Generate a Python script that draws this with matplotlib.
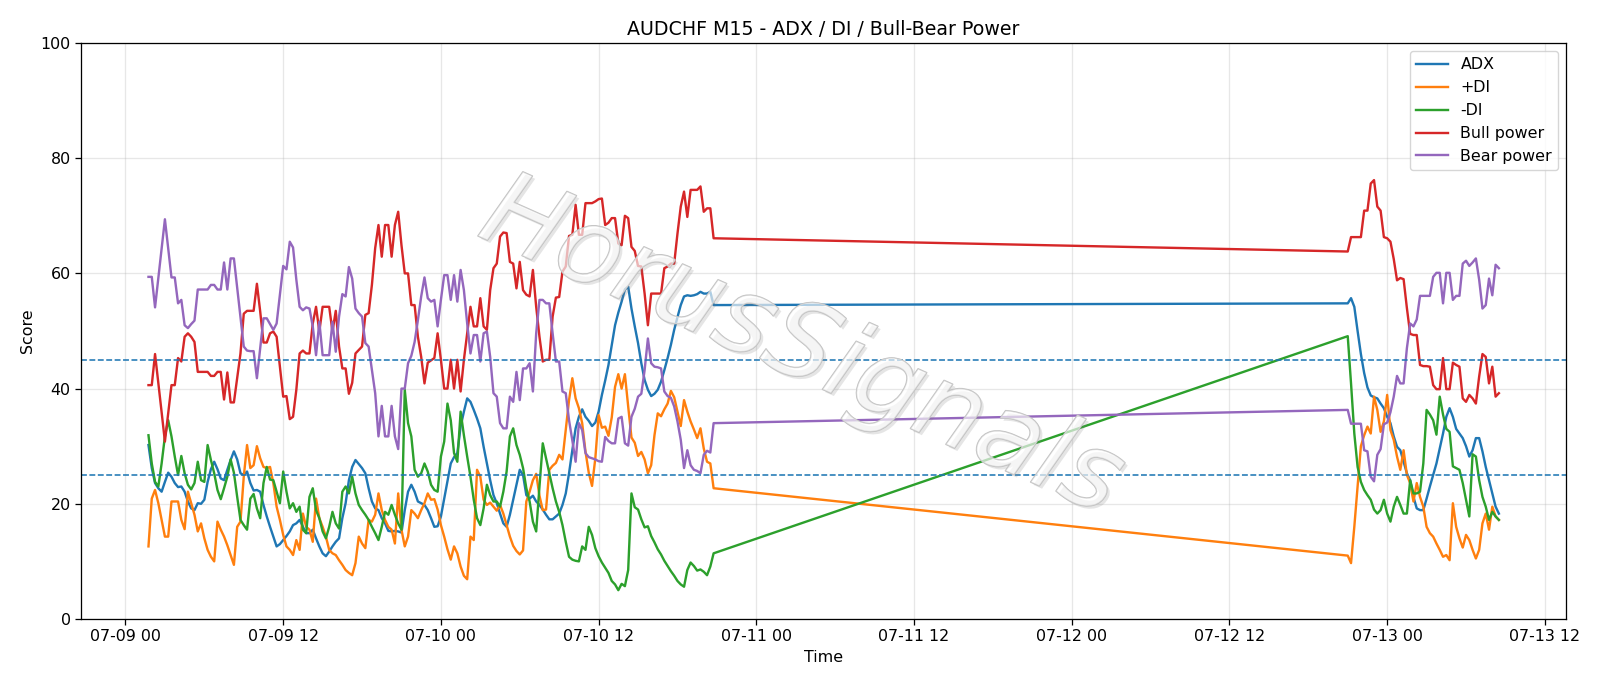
import matplotlib
matplotlib.use("Agg")
import matplotlib.pyplot as plt
import matplotlib.dates as mdates
import matplotlib.patheffects as pe
import pandas as pd

# M15 bars: Friday session, then the weekend gap, then Sunday/Monday session
seg1_start, seg1_len = "2026-07-09 01:45", 173
seg2_start, seg2_len = "2026-07-12 21:00", 47

adx = [
    30.2, 26.2, 23.6, 22.7, 22.1, 23.8, 25.4, 24.7, 23.6, 22.9, 23.0, 22.1, 20.4, 19.2, 18.9, 20.1, 20.0, 20.7, 23.8, 26.0, 27.3, 26.0,
    24.4, 24.1, 25.9, 27.6, 29.1, 27.7, 25.3, 25.0, 25.6, 23.6, 22.3, 22.4, 22.1, 19.8, 17.8, 16.0, 14.3, 12.6, 13.0, 13.7, 14.4, 15.2,
    16.3, 16.6, 17.2, 16.0, 14.9, 14.9, 15.5, 14.0, 12.6, 11.4, 10.9, 11.7, 12.6, 13.4, 14.0, 17.5, 20.1, 24.1, 26.4, 27.6, 26.9, 26.2,
    25.3, 22.7, 20.4, 19.2, 18.9, 17.5, 16.6, 15.3, 15.2, 15.3, 15.2, 15.0, 18.9, 22.1, 23.3, 22.1, 20.4, 20.1, 19.8, 18.9, 17.5, 16.0,
    16.1, 17.8, 20.9, 24.1, 27.0, 28.1, 28.8, 33.4, 36.0, 38.3, 37.7, 36.3, 34.8, 33.1, 29.9, 27.0, 24.1, 21.5, 20.1, 18.3, 16.6, 16.0,
    18.1, 20.7, 23.3, 25.9, 25.0, 21.5, 20.9, 21.4, 20.4, 19.8, 19.0, 18.1, 17.3, 17.3, 17.8, 18.3, 19.8, 21.8, 25.3, 29.3, 33.1, 35.1,
    36.4, 35.1, 34.4, 33.5, 34.1, 36.0, 38.9, 41.4, 44.1, 47.6, 51.0, 53.2, 55.1, 57.2, 57.7, 53.9, 50.8, 47.9, 44.4, 41.5, 39.8, 38.7,
    39.1, 39.8, 41.2, 43.2, 45.3, 47.6, 50.2, 52.4, 54.5, 56.0, 56.2, 56.1, 56.2, 56.4, 56.8, 56.5, 56.5, 56.8, 54.5,
    54.8, 55.7, 54.2, 50.0, 46.0, 42.7, 40.2, 38.8, 38.5, 38.3, 37.4, 36.6, 35.1, 34.0, 31.7, 29.9, 29.3, 27.3, 25.3, 24.1, 21.2, 19.2,
    18.9, 18.9, 20.9, 23.0, 25.0, 27.0, 29.6, 32.2, 35.1, 36.6, 35.1, 33.0, 32.2, 31.4, 30.0, 28.2, 29.3, 31.4, 31.4, 29.1, 26.4, 24.1,
    21.8, 19.5, 18.3,
]

plus_di = [
    12.6, 20.9, 22.4, 20.1, 17.2, 14.3, 14.3, 20.4, 20.4, 20.4, 17.2, 15.6, 22.1, 20.1, 18.1, 15.2, 16.6, 14.0, 12.0, 10.8, 10.0, 16.9,
    15.5, 14.3, 12.8, 11.1, 9.4, 16.0, 16.9, 24.7, 30.2, 26.2, 26.7, 30.0, 27.9, 26.4, 26.2, 26.4, 23.6, 19.5, 17.2, 14.6, 12.6, 12.0,
    11.1, 13.7, 12.0, 18.3, 16.0, 15.5, 13.4, 20.9, 17.5, 16.0, 14.3, 12.0, 11.4, 11.1, 10.2, 9.4, 8.5, 8.0, 7.6, 9.7, 14.3, 13.1,
    12.3, 17.2, 16.9, 18.1, 21.8, 18.9, 17.2, 16.0, 15.5, 13.1, 21.8, 15.5, 12.6, 14.3, 18.9, 18.3, 17.5, 18.9, 20.1, 21.8, 20.7, 20.8,
    19.0, 16.3, 14.3, 12.1, 10.3, 12.6, 11.4, 9.1, 7.5, 6.9, 14.3, 13.7, 25.9, 24.7, 20.7, 19.8, 20.2, 19.5, 18.8, 19.8, 18.3, 16.3,
    14.3, 12.7, 11.8, 11.2, 11.9, 20.4, 22.1, 24.1, 25.2, 21.4, 18.9, 19.0, 25.9, 26.6, 27.1, 28.5, 27.7, 32.8, 38.0, 41.8, 38.3, 36.6,
    34.0, 29.1, 25.4, 23.1, 27.9, 35.4, 33.2, 33.4, 31.8, 35.0, 40.3, 42.5, 40.0, 42.5, 36.9, 31.5, 30.6, 28.3, 29.0, 27.7, 25.3, 26.7,
    31.9, 35.7, 35.2, 36.4, 37.4, 39.6, 38.5, 36.0, 33.5, 38.0, 36.0, 34.3, 32.9, 31.4, 33.1, 29.6, 27.3, 27.0, 22.7,
    11.0, 9.7, 16.0, 23.0, 30.0, 31.9, 33.4, 32.2, 38.6, 36.3, 32.5, 34.3, 38.9, 32.8, 31.1, 28.2, 25.9, 29.3, 25.0, 23.6, 20.4, 23.6,
    21.2, 19.5, 16.0, 14.9, 14.3, 13.1, 12.0, 10.8, 11.1, 10.2, 20.1, 16.0, 14.0, 12.4, 14.6, 13.7, 12.0, 10.5, 12.0, 16.6, 18.3, 15.5,
    19.5, 17.8, 17.2,
]

minus_di = [
    31.9, 27.0, 23.8, 23.0, 27.0, 31.7, 34.5, 31.7, 28.2, 25.0, 28.3, 25.3, 23.3, 22.5, 23.6, 27.3, 24.1, 23.8, 30.2, 27.6, 25.3, 22.4,
    20.8, 22.7, 24.7, 27.7, 25.4, 21.2, 17.2, 16.3, 15.5, 20.9, 21.7, 19.2, 17.5, 23.6, 26.4, 24.2, 24.1, 22.1, 20.1, 25.6, 22.1, 19.2,
    20.1, 18.6, 19.5, 15.5, 14.9, 21.2, 22.7, 18.9, 17.5, 15.2, 14.0, 16.0, 18.6, 16.6, 15.7, 22.1, 23.0, 21.8, 24.7, 21.8, 19.8, 18.9,
    18.1, 17.2, 16.0, 14.9, 13.7, 16.0, 18.6, 18.1, 19.8, 18.1, 16.6, 15.5, 39.8, 34.0, 31.7, 25.9, 24.7, 25.3, 27.0, 25.6, 23.3, 22.4,
    22.1, 28.2, 30.8, 37.4, 34.5, 28.8, 27.3, 36.0, 31.9, 28.2, 24.7, 20.7, 17.5, 16.3, 19.2, 23.3, 21.5, 20.4, 20.4, 19.5, 22.1, 25.6,
    31.7, 33.1, 30.2, 28.5, 26.2, 22.7, 20.4, 16.9, 15.2, 23.0, 30.5, 27.9, 25.3, 22.7, 20.4, 18.6, 16.3, 13.4, 10.8, 10.3, 10.1, 10.0,
    12.6, 12.0, 16.0, 14.6, 12.3, 10.9, 9.8, 8.9, 8.0, 6.6, 6.0, 5.0, 6.1, 5.7, 8.5, 21.8, 19.4, 19.0, 17.3, 15.9, 16.1, 14.4,
    13.3, 12.1, 11.2, 10.1, 9.2, 8.3, 7.5, 6.6, 6.0, 5.6, 8.5, 9.8, 9.2, 8.4, 8.6, 8.2, 7.6, 9.1, 11.4,
    49.1, 40.9, 32.2, 26.4, 23.8, 22.4, 21.5, 20.7, 19.0, 18.3, 18.9, 20.7, 18.3, 16.9, 19.5, 21.2, 19.8, 18.3, 18.3, 24.1, 21.8, 21.8,
    22.1, 27.0, 36.3, 35.5, 34.5, 32.0, 38.6, 35.5, 33.0, 32.5, 26.5, 26.2, 25.9, 23.6, 20.7, 17.8, 28.6, 28.2, 24.1, 21.2, 19.5, 17.2,
    18.6, 17.8, 17.2,
]

bull_power = [
    40.6, 40.6, 46.0, 41.0, 35.9, 30.8, 35.7, 40.6, 40.6, 45.3, 44.7, 49.0, 49.6, 49.0, 48.1, 42.9, 42.9, 42.9, 42.9, 42.2, 42.2, 42.9,
    42.9, 38.1, 42.8, 37.6, 37.6, 41.9, 46.1, 53.0, 53.5, 53.5, 53.5, 58.2, 53.4, 48.0, 48.0, 49.6, 49.9, 49.0, 43.8, 38.6, 38.7, 34.7,
    35.1, 39.8, 46.1, 46.6, 46.1, 46.1, 51.3, 54.2, 49.9, 54.2, 54.2, 54.2, 49.9, 53.5, 47.3, 43.5, 43.5, 39.1, 41.0, 46.1, 46.7, 47.3,
    52.8, 53.1, 58.0, 64.4, 68.4, 62.9, 68.4, 68.4, 62.9, 68.4, 70.7, 64.9, 60.0, 60.0, 54.5, 54.5, 49.0, 45.5, 40.9, 44.5, 44.9, 45.3,
    49.6, 45.0, 40.0, 40.0, 45.0, 40.0, 45.0, 39.5, 45.0, 49.6, 54.2, 50.8, 50.8, 55.7, 50.8, 50.2, 57.1, 60.9, 61.7, 66.4, 67.1, 67.0,
    62.0, 61.7, 57.4, 62.0, 57.1, 56.3, 56.0, 60.6, 54.2, 49.0, 44.7, 45.0, 45.0, 52.5, 55.8, 55.9, 60.3, 61.2, 66.5, 66.7, 71.9, 66.7,
    66.7, 72.2, 72.2, 72.2, 72.5, 72.9, 73.0, 68.4, 68.8, 69.6, 69.6, 65.2, 64.9, 70.0, 69.6, 64.6, 63.9, 61.3, 61.2, 56.5, 51.0, 56.5,
    56.5, 56.5, 56.5, 60.9, 61.2, 61.7, 61.7, 66.9, 71.6, 74.2, 69.8, 74.5, 74.5, 74.5, 75.1, 70.7, 71.3, 71.3, 66.1,
    63.8, 66.3, 66.3, 66.3, 66.3, 70.9, 70.9, 75.6, 76.2, 71.6, 70.9, 66.3, 66.1, 65.5, 62.5, 58.8, 59.2, 59.0, 54.0, 49.5, 49.3, 49.3,
    44.1, 43.9, 43.9, 43.8, 40.6, 39.9, 39.9, 45.3, 39.9, 39.9, 44.5, 44.1, 43.8, 38.3, 37.7, 38.9, 38.3, 37.4, 42.1, 46.0, 45.5, 40.9,
    43.8, 38.6, 39.2,
]

bear_power = [
    59.4, 59.4, 54.1, 59.2, 64.3, 69.4, 64.3, 59.3, 59.3, 54.8, 55.4, 51.0, 50.5, 51.2, 51.8, 57.2, 57.2, 57.2, 57.2, 58.0, 58.0, 57.2,
    57.2, 61.9, 57.2, 62.6, 62.6, 57.5, 52.4, 47.3, 46.6, 46.5, 46.5, 41.8, 47.0, 52.2, 52.2, 51.2, 50.2, 51.3, 56.3, 61.3, 60.7, 65.5,
    64.5, 58.9, 54.2, 53.6, 54.1, 53.9, 50.8, 45.8, 51.6, 45.8, 45.8, 45.8, 51.6, 46.4, 52.5, 56.4, 56.0, 61.1, 59.1, 53.9, 53.1, 52.5,
    47.9, 47.3, 43.2, 39.2, 31.7, 37.0, 31.7, 31.7, 37.0, 31.7, 29.5, 40.0, 40.0, 44.4, 45.7, 48.1, 51.9, 56.0, 59.3, 55.7, 55.1, 55.4,
    50.8, 55.4, 59.7, 59.7, 55.4, 59.7, 55.1, 60.6, 57.1, 51.3, 46.1, 49.3, 49.3, 44.7, 49.6, 49.9, 45.5, 39.2, 38.6, 34.0, 33.1, 33.1,
    38.6, 37.7, 42.9, 38.0, 43.5, 43.5, 44.4, 39.5, 49.6, 55.4, 55.4, 54.8, 54.8, 49.6, 44.7, 44.7, 39.5, 39.2, 34.5, 31.0, 27.3, 34.0,
    32.8, 28.8, 28.1, 27.9, 27.7, 27.4, 27.3, 31.6, 30.9, 30.5, 30.5, 34.8, 35.1, 30.5, 30.1, 35.1, 36.5, 38.6, 39.1, 43.2, 48.7, 44.4,
    43.8, 43.7, 43.5, 39.5, 38.7, 38.4, 36.9, 34.3, 31.1, 26.2, 29.3, 26.7, 25.9, 25.7, 25.3, 28.5, 29.2, 28.9, 34.0,
    36.3, 33.9, 33.9, 33.9, 33.9, 29.3, 29.1, 24.7, 23.9, 28.5, 29.5, 33.8, 34.1, 35.9, 38.6, 42.2, 40.9, 40.9, 47.0, 51.3, 50.8, 52.0,
    56.1, 56.1, 56.1, 56.1, 59.4, 60.1, 60.1, 54.8, 60.1, 60.1, 55.4, 56.1, 56.1, 61.7, 62.2, 61.3, 61.9, 62.6, 58.9, 53.9, 54.5, 59.1,
    56.2, 61.5, 60.9,
]

times = pd.date_range(seg1_start, periods=seg1_len, freq="15min").append(
    pd.date_range(seg2_start, periods=seg2_len, freq="15min"))

# figure is 1600x686, default look scaled up a bit
S = 8 / 7
plt.rcParams.update({
    "font.size": 10 * S,
    "lines.linewidth": 1.5 * S,
    "axes.linewidth": 0.8 * S,
    "grid.linewidth": 0.8 * S,
    "xtick.major.width": 0.8 * S,
    "ytick.major.width": 0.8 * S,
    "xtick.major.size": 3.5 * S,
    "ytick.major.size": 3.5 * S,
    "legend.fontsize": 10 * S,
})

fig, ax = plt.subplots(figsize=(16, 6.86), dpi=100)
ax.plot(times, adx, label="ADX")
ax.plot(times, plus_di, label="+DI")
ax.plot(times, minus_di, label="-DI")
ax.plot(times, bull_power, label="Bull power")
ax.plot(times, bear_power, label="Bear power")
ax.axhline(25, color="C0", linestyle="--", linewidth=1.0 * S)
ax.axhline(45, color="C0", linestyle="--", linewidth=1.0 * S)

ax.set_ylim(0, 100)
ax.xaxis.set_major_locator(mdates.HourLocator(byhour=[0, 12]))
ax.xaxis.set_major_formatter(mdates.DateFormatter("%m-%d %H"))
ax.set_title("AUDCHF M15 - ADX / DI / Bull-Bear Power")
ax.set_xlabel("Time")
ax.set_ylabel("Score")
ax.grid(True, alpha=0.3)
ax.legend(loc="upper right")

# watermark
ax.text(0.485, 0.47, "HorusSignals", transform=ax.transAxes, fontsize=76,
        style="italic", rotation=-24, ha="center", va="center",
        color=(1, 1, 1, 0.4), zorder=10,
        path_effects=[pe.SimplePatchShadow(offset=(2, -2), shadow_rgbFace="0.5", alpha=0.2),
                      pe.Stroke(linewidth=1.0, foreground="0.75"),
                      pe.Normal()])

fig.subplots_adjust(left=0.0506, right=0.979, top=0.9373, bottom=0.0977)
fig.savefig("out.png", dpi=100)
